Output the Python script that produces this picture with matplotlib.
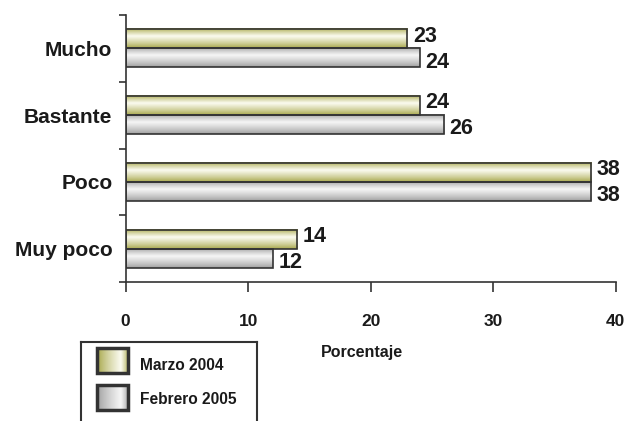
import numpy as np
import matplotlib.pyplot as plt
from matplotlib.colors import to_rgb
from matplotlib.patches import Rectangle

# datos
categorias = ['Mucho', 'Bastante', 'Poco', 'Muy poco']
marzo_2004 = [23, 24, 38, 14]
febrero_2005 = [24, 26, 38, 12]
series = ['Marzo 2004', 'Febrero 2005']
ticks_x = [0, 10, 20, 30, 40]

plt.rcParams['font.family'] = ['Liberation Sans', 'DejaVu Sans']
plt.rcParams['font.weight'] = 'bold'

oliva = (to_rgb('#a4a444'), to_rgb('#fbfbf0'))
gris = (to_rgb('#9c9c9c'), to_rgb('#f6f6f6'))
borde = '#333333'


def grad(dark, light, peak, n=80, horiz=False):
    t = np.linspace(0, 1, n)
    f = np.where(t < peak, t / peak, (1 - t) / (1 - peak))
    f = np.clip(f, 0, 1) ** 0.8
    d, l = np.array(dark), np.array(light)
    c = d[None, :] * (1 - f[:, None]) + l[None, :] * f[:, None]
    if horiz:
        return c[None, :, :]
    return c[:, None, :]


fig = plt.figure(figsize=(6.29, 4.21), dpi=100)
ax = fig.add_axes([0.1998, 0.330, 0.7788, 0.6342])

y = np.arange(len(categorias))[::-1]
h = 0.285
b1 = ax.barh(y + h / 2, marzo_2004, h, facecolor='none', edgecolor=borde, lw=1.2, zorder=3)
b2 = ax.barh(y - h / 2, febrero_2005, h, facecolor='none', edgecolor=borde, lw=1.2, zorder=3)

for bars, cols, vals, dy in [(b1, oliva, marzo_2004, 2), (b2, gris, febrero_2005, -3)]:
    img = grad(cols[0], cols[1], 0.4)
    for r, v in zip(bars, vals):
        x0, y0, w, hh = r.get_x(), r.get_y(), r.get_width(), r.get_height()
        ax.imshow(img, extent=[x0, x0 + w, y0, y0 + hh], aspect='auto',
                  interpolation='bilinear', zorder=2)
        ax.annotate(str(v), (v, y0 + hh / 2), xytext=(4, dy), textcoords='offset points',
                    va='center', ha='left', fontsize=15.5, fontweight='bold', color='#1a1a1a')

ax.set_xlim(0, 40)
ax.set_ylim(-0.5, 3.5)
for s in ['top', 'right']:
    ax.spines[s].set_visible(False)
for s in ['left', 'bottom']:
    ax.spines[s].set_color(borde)
    ax.spines[s].set_linewidth(1.2)

ax.set_xticks(ticks_x)
ax.tick_params(axis='x', direction='out', length=7, width=1.2, color=borde, pad=16,
               labelsize=12.5, labelcolor='#1a1a1a')
ax.set_yticks(np.arange(-0.5, 4, 1))
ax.set_yticklabels([])
ax.tick_params(axis='y', which='major', direction='out', length=5, width=1.2, color=borde)
ax.set_yticks(y, minor=True)
ax.set_yticklabels(categorias, minor=True, fontsize=15, fontweight='bold', color='#1a1a1a')
ax.tick_params(axis='y', which='minor', length=0, pad=9.5)

fig.text(362 / 629, 1 - 352.7 / 421, 'Porcentaje', ha='center', va='center',
         fontsize=11.5, fontweight='bold', color='#1a1a1a')

# leyenda manual
lax = fig.add_axes([81 / 629, 0, 176 / 629, 79.3 / 421])
lax.set_xlim(0, 1)
lax.set_ylim(0, 1)
lax.set_xticks([])
lax.set_yticks([])
lax.spines['bottom'].set_visible(False)
for s in ['top', 'left', 'right']:
    lax.spines[s].set_color(borde)
    lax.spines[s].set_linewidth(1.5)
lax.patch.set_alpha(0)

for cols, nombre, (ya, yb), yt in [(oliva, series[0], (0.609, 0.92), 0.706),
                                   (gris, series[1], (0.139, 0.454), 0.265)]:
    img = grad(cols[0], cols[1], 0.75, horiz=True)
    lax.imshow(img, extent=[0.089, 0.267, ya, yb], aspect='auto', interpolation='bilinear')
    lax.add_patch(Rectangle((0.089, ya), 0.178, yb - ya, fill=False, edgecolor=borde, lw=2.5))
    lax.text(0.335, yt, nombre, ha='left', va='center', fontsize=11.2, fontweight='bold',
             color='#1a1a1a')
lax.set_xlim(0, 1)
lax.set_ylim(0, 1)

fig.savefig('out.png', dpi=100)
